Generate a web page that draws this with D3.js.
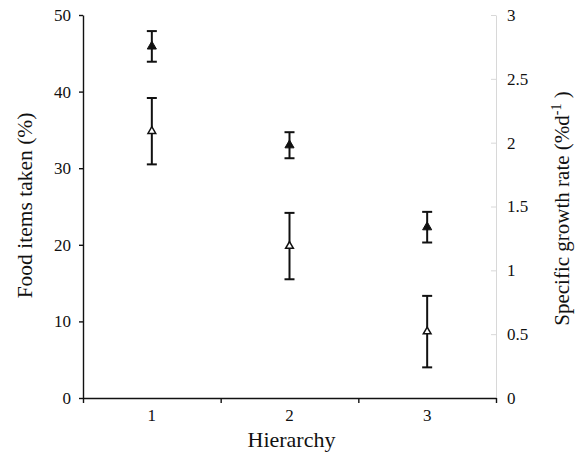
<!DOCTYPE html>
<html>
<head>
<meta charset="utf-8">
<script src="https://cdn.jsdelivr.net/npm/d3@7"></script>
<style>
  body { margin: 0; background: #fff; }
  svg text { font-family: "Liberation Serif", "Times New Roman", serif; fill: #111; }
</style>
</head>
<body>
<div id="chart"></div>
<script>
// categories and values
var hierarchy = ['1', '2', '3'];
// filled triangles, left axis (food items taken, %)
var foodMean = [45.9, 33.0, 22.3];
var foodErr  = [2.0, 1.7, 2.0];
// open triangles, right axis (specific growth rate, %/d)
var growthMean = [2.09, 1.19, 0.52];
var growthErr  = [0.26, 0.26, 0.28];
var leftTicks = [0, 10, 20, 30, 40, 50];
var rightTicks = [0, 0.5, 1, 1.5, 2, 2.5, 3];

var width = 581, height = 457;
var margin = { left: 83, right: 85, top: 15, bottom: 59 };
var x0 = margin.left, x1 = width - margin.right;
var y0 = height - margin.bottom, y1 = margin.top;

var svg = d3.select('#chart').append('svg')
    .attr('width', width)
    .attr('height', height);

//scales
var xEdge = d3.scaleLinear().domain([0, hierarchy.length]).range([x0, x1]);
var xBand = d3.scaleBand().domain(hierarchy).range([x0, x1]);
var yLeft = d3.scaleLinear().domain([0, 50]).range([y0, y1]);
var yRight = d3.scaleLinear().domain([0, 3]).range([y0, y1]);

// right axis (light grey)
var rightG = svg.append('g')
    .attr('transform', 'translate(' + x1 + ',0)')
    .call(d3.axisRight(yRight).tickValues(rightTicks).tickSize(0).tickPadding(11)
        .tickFormat(d => d));
rightG.select('.domain').attr('stroke', '#d8d8d8');
rightG.selectAll('.tick line').remove();
rightG.selectAll('.tick').append('line')
    .attr('x1', -5).attr('x2', 0)
    .attr('stroke', '#d8d8d8');
rightG.selectAll('text').style('font-size', '17px');

// left axis
var leftG = svg.append('g')
    .attr('transform', 'translate(' + x0 + ',0)')
    .call(d3.axisLeft(yLeft).tickValues(leftTicks).tickSize(4).tickPadding(8).tickSizeOuter(0));
leftG.selectAll('path, line').attr('stroke', '#111').attr('stroke-width', 1.4);
leftG.selectAll('text').style('font-size', '17px');

// bottom axis: ticks at band edges, labels at band centres
var bottomG = svg.append('g')
    .attr('transform', 'translate(0,' + y0 + ')')
    .call(d3.axisBottom(xEdge).tickValues([0, 1, 2, 3]).tickSize(5).tickFormat('').tickSizeOuter(0));
bottomG.selectAll('path, line').attr('stroke', '#111').attr('stroke-width', 1.4);
var labelG = svg.append('g')
    .attr('transform', 'translate(0,' + y0 + ')')
    .call(d3.axisBottom(xBand).tickSize(0).tickPadding(11));
labelG.select('.domain').remove();
labelG.selectAll('text').style('font-size', '17px');

// axis titles
svg.append('text')
    .attr('x', (x0 + x1) / 2 + 2).attr('y', 447)
    .attr('text-anchor', 'middle')
    .style('font-size', '22px')
    .text('Hierarchy');
svg.append('text')
    .attr('transform', 'translate(32,' + ((y0 + y1) / 2 - 1) + ') rotate(-90)')
    .attr('text-anchor', 'middle')
    .style('font-size', '21.5px')
    .text('Food items taken (%)');
var rt = svg.append('text')
    .attr('transform', 'translate(569,' + ((y0 + y1) / 2 + 2) + ') rotate(-90)')
    .attr('text-anchor', 'middle')
    .style('font-size', '21px');
rt.append('tspan').text('Specific growth rate (%d');
rt.append('tspan').attr('dy', -8).style('font-size', '14px').text('-1');
rt.append('tspan').attr('dy', 8).text(' )');

// draws one error-bar series with triangle markers
function drawSeries(means, errs, yScale, filled) {
    var g = svg.append('g');
    var cap = 5;
    var pts = g.selectAll('g.pt')
        .data(means.map((m, i) => ({ cat: hierarchy[i], m: m, e: errs[i] })))
        .enter().append('g').attr('class', 'pt');
    pts.append('line')
        .attr('x1', d => xBand(d.cat) + xBand.bandwidth() / 2)
        .attr('x2', d => xBand(d.cat) + xBand.bandwidth() / 2)
        .attr('y1', d => yScale(d.m - d.e))
        .attr('y2', d => yScale(d.m + d.e));
    pts.append('line')
        .attr('x1', d => xBand(d.cat) + xBand.bandwidth() / 2 - cap)
        .attr('x2', d => xBand(d.cat) + xBand.bandwidth() / 2 + cap)
        .attr('y1', d => yScale(d.m + d.e))
        .attr('y2', d => yScale(d.m + d.e));
    pts.append('line')
        .attr('x1', d => xBand(d.cat) + xBand.bandwidth() / 2 - cap)
        .attr('x2', d => xBand(d.cat) + xBand.bandwidth() / 2 + cap)
        .attr('y1', d => yScale(d.m - d.e))
        .attr('y2', d => yScale(d.m - d.e));
    pts.selectAll('line').attr('stroke', '#111').attr('stroke-width', 2);
    pts.append('path')
        .attr('d', d3.symbol(d3.symbolTriangle, filled ? 36 : 26))
        .attr('transform', d => 'translate(' + (xBand(d.cat) + xBand.bandwidth() / 2) + ',' + yScale(d.m) + ')')
        .attr('fill', filled ? '#111' : '#fff')
        .attr('stroke', '#111')
        .attr('stroke-width', filled ? 1 : 1.5);
}

drawSeries(foodMean, foodErr, yLeft, true);
drawSeries(growthMean, growthErr, yRight, false);
</script>
</body>
</html>
